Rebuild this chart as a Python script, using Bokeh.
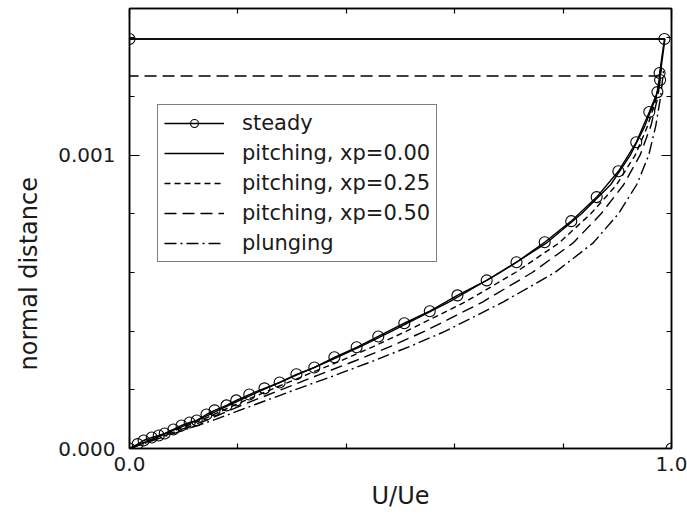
from bokeh.plotting import figure
from bokeh.models import (FixedTicker, PrintfTickFormatter, LinearAxis, Legend,
                          LegendItem, Title, Range1d)
from bokeh.embed import file_html
from bokeh.resources import INLINE

nan = float("nan")

# ---- data (U/Ue versus normal distance) ----
steady_u = [0.000, 0.015, 0.026, 0.041, 0.054, 0.065, 0.081, 0.096, 0.111, 0.124,
            0.142, 0.157, 0.179, 0.197, 0.221, 0.249, 0.277, 0.308, 0.341, 0.378,
            0.419, 0.459, 0.507, 0.554, 0.605, 0.659, 0.714, 0.766, 0.815, 0.862,
            0.902, 0.935, 0.959, 0.974, 0.979, 0.978, 0.987, 0.000, nan, 1.000]
steady_y = [0.0, 0.000015, 0.0000273, 0.0000375, 0.0000444, 0.0000512, 0.0000648,
            0.0000785, 0.0000887, 0.0000956, 0.000116, 0.000130, 0.000147, 0.000164,
            0.000184, 0.000205, 0.000225, 0.000253, 0.000276, 0.000311, 0.000345,
            0.000382, 0.000427, 0.000468, 0.000522, 0.000573, 0.000635, 0.000703,
            0.000775, 0.000857, 0.000945, 0.001044, 0.001147, 0.001215, 0.001256,
            0.00128, 0.001396, 0.001396, nan, 0.0]

pitch00_u = [0.0, 0.065, 0.130, 0.186, 0.246, 0.308, 0.370, 0.429, 0.484, 0.590,
             0.684, 0.769, 0.834, 0.888, 0.924, 0.951, 0.972, 0.981, 0.988, 0.0]
pitch00_y = [0.0, 0.00005, 0.0001, 0.00015, 0.0002, 0.00025, 0.0003, 0.00035, 0.0004,
             0.0005, 0.0006, 0.0007, 0.0008, 0.0009, 0.0010, 0.0011, 0.0012, 0.0013,
             0.001396, 0.001396]

pitch25_u = [0.0, 0.068, 0.137, 0.196, 0.260, 0.325, 0.391, 0.453, 0.511, 0.620,
             0.712, 0.792, 0.851, 0.899, 0.933, 0.956, 0.973, 0.982]
pitch25_y = [0.0, 0.00005, 0.0001, 0.00015, 0.0002, 0.00025, 0.0003, 0.00035, 0.0004,
             0.0005, 0.0006, 0.0007, 0.0008, 0.0009, 0.0010, 0.0011, 0.0012, 0.0013]

pitch50_u = [0.0, 0.074, 0.147, 0.210, 0.279, 0.348, 0.418, 0.484, 0.545, 0.652,
             0.743, 0.818, 0.870, 0.912, 0.942, 0.962, 0.975, 0.980, 0.0]
pitch50_y = [0.0, 0.00005, 0.0001, 0.00015, 0.0002, 0.00025, 0.0003, 0.00035, 0.0004,
             0.0005, 0.0006, 0.0007, 0.0008, 0.0009, 0.0010, 0.0011, 0.0012,
             0.00127, 0.00127]

plunge_u = [0.0, 0.080, 0.160, 0.232, 0.305, 0.380, 0.452, 0.520, 0.583, 0.690,
            0.785, 0.855, 0.902, 0.936, 0.958, 0.971, 0.980, 0.986]
plunge_y = [0.0, 0.00005, 0.0001, 0.00015, 0.0002, 0.00025, 0.0003, 0.00035, 0.0004,
            0.0005, 0.0006, 0.0007, 0.0008, 0.0009, 0.0010, 0.0011, 0.0012, 0.0013]

labels = ["steady", "pitching, xp=0.00", "pitching, xp=0.25",
          "pitching, xp=0.50", "plunging"]

x_ticks = [0.0, 1.0]
x_minor = [0.2, 0.4, 0.6, 0.8]
y_ticks = [0.0, 0.001]
y_minor = [0.0002, 0.0004, 0.0006, 0.0008, 0.0012, 0.0014]

FONT = "DejaVu Sans"
INK = "#1a1a1a"

p = figure(frame_width=542, frame_height=440,
           x_range=Range1d(0, 1), y_range=Range1d(0, 0.0015),
           output_backend="svg", toolbar_location=None,
           min_border_left=128, min_border_right=17,
           min_border_top=8, min_border_bottom=66)
p.xgrid.visible = False
p.ygrid.visible = False
p.outline_line_color = "black"
p.outline_line_width = 1.5
p.background_fill_color = "white"
p.border_fill_color = "white"


def style_axis(ax, ticks, minor, fmt, show_labels):
    ax.ticker = FixedTicker(ticks=ticks, minor_ticks=minor)
    ax.formatter = PrintfTickFormatter(format=fmt)
    ax.major_tick_in = 10
    ax.major_tick_out = 0
    ax.minor_tick_in = 5
    ax.minor_tick_out = 0
    ax.major_tick_line_color = "black"
    ax.minor_tick_line_color = "black"
    ax.major_tick_line_width = 1.2
    ax.minor_tick_line_width = 1.2
    ax.axis_line_color = "black"
    ax.axis_line_width = 1.5
    ax.major_label_text_font = FONT
    ax.major_label_text_font_size = "20px"
    ax.major_label_text_color = INK
    if not show_labels:
        ax.major_label_text_font_size = "0px"
        ax.major_label_text_alpha = 0


xa = p.xaxis[0]
ya = p.yaxis[0]
style_axis(xa, x_ticks, x_minor, "%.1f", True)
style_axis(ya, y_ticks, y_minor, "%.3f", True)
xa.major_label_standoff = 8
ya.major_label_standoff = 14
xa.axis_label = "U/Ue"
xa.axis_label_text_font = FONT
xa.axis_label_text_font_size = "24px"
xa.axis_label_text_font_style = "normal"
xa.axis_label_text_color = INK
xa.axis_label_standoff = 8

top_ax = LinearAxis()
style_axis(top_ax, x_ticks, x_minor, "%.1f", False)
p.add_layout(top_ax, "above")
right_ax = LinearAxis()
style_axis(right_ax, y_ticks, y_minor, "%.3f", False)
p.add_layout(right_ax, "right")

ytitle = Title(text="normal distance", align="left", offset=78,
               text_font=FONT, text_font_size="24px", text_font_style="normal",
               text_color=INK, standoff=25)
p.add_layout(ytitle, "left")

LW = 1.4
r_steady_line = p.line(steady_u, steady_y, line_color="black", line_width=LW)
r_steady_pts = p.scatter(steady_u, steady_y, marker="circle", size=11,
                         fill_alpha=0, line_color="black", line_width=1.1)
r_p00 = p.line(pitch00_u, pitch00_y, line_color="black", line_width=LW)
r_p25 = p.line(pitch25_u, pitch25_y, line_color="black", line_width=LW,
               line_dash="6 4")
r_p50 = p.line(pitch50_u, pitch50_y, line_color="black", line_width=LW,
               line_dash="12 6")
r_pl = p.line(plunge_u, plunge_y, line_color="black", line_width=LW,
              line_dash="12 4 2 4")

items = [
    LegendItem(label=labels[0], renderers=[r_steady_line, r_steady_pts]),
    LegendItem(label=labels[1], renderers=[r_p00]),
    LegendItem(label=labels[2], renderers=[r_p25]),
    LegendItem(label=labels[3], renderers=[r_p50]),
    LegendItem(label=labels[4], renderers=[r_pl]),
]
legend = Legend(items=items, location=(28, 186), margin=0, padding=6,
                spacing=6, glyph_width=60, glyph_height=20, label_height=20,
                label_standoff=18, label_text_font=FONT,
                label_text_font_size="21px", label_text_color=INK,
                border_line_color="black", border_line_width=1.5,
                background_fill_color="white", background_fill_alpha=1.0)
p.add_layout(legend, "center")

open("out.html", "w").write(file_html(p, INLINE))
